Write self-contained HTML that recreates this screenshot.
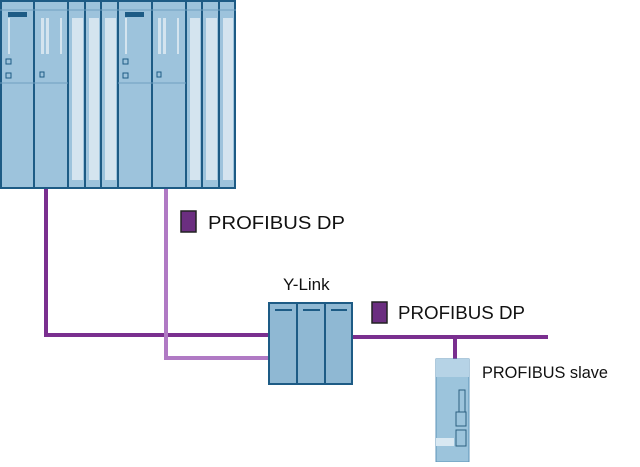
<!DOCTYPE html>
<html><head><style>body{margin:0;background:#fff}text{font-family:"Liberation Sans",sans-serif;fill:#111}</style></head>
<body>
<svg width="640" height="462" viewBox="0 0 640 462" xmlns="http://www.w3.org/2000/svg">
<g stroke="#1d5b85" stroke-width="2">
<rect x="1" y="1" width="234" height="187" fill="#8db5d0"/>
</g>
<g fill="#9dc3dc" stroke="#1d5b85" stroke-width="2">
<rect x="1" y="1" width="33" height="187"/><rect x="34" y="1" width="34" height="187"/>
<rect x="68" y="1" width="17" height="187"/><rect x="85" y="1" width="16" height="187"/><rect x="101" y="1" width="17" height="187"/>
<rect x="118" y="1" width="34" height="187"/><rect x="152" y="1" width="34" height="187"/>
<rect x="186" y="1" width="16" height="187"/><rect x="202" y="1" width="17" height="187"/><rect x="219" y="1" width="16" height="187"/>
</g>
<g stroke="#6f9fc0" stroke-width="1"><line x1="0" y1="10" x2="236" y2="10"/><line x1="0" y1="83" x2="68" y2="83"/><line x1="118" y1="83" x2="186" y2="83"/></g>
<g fill="#d4e4ef">
<rect x="72" y="18" width="11" height="162"/><rect x="89" y="18" width="10" height="162"/><rect x="105" y="18" width="11" height="162"/>
<rect x="190" y="18" width="10" height="162"/><rect x="206" y="18" width="11" height="162"/><rect x="223" y="18" width="10" height="162"/>
<rect x="8" y="18" width="2" height="36"/><rect x="41" y="18" width="3" height="36"/><rect x="46" y="18" width="3" height="36"/><rect x="60" y="18" width="2" height="36"/>
<rect x="125" y="18" width="2" height="36"/><rect x="158" y="18" width="3" height="36"/><rect x="163" y="18" width="3" height="36"/><rect x="177" y="18" width="2" height="36"/>
</g>
<rect x="8" y="12" width="19" height="5" fill="#1d5b85"/><rect x="125" y="12" width="19" height="5" fill="#1d5b85"/>
<g fill="none" stroke="#1d5b85" stroke-width="1"><rect x="6" y="59" width="5" height="5"/><rect x="6" y="73" width="5" height="5"/><rect x="40" y="72" width="4" height="5"/><rect x="123" y="59" width="5" height="5"/><rect x="123" y="73" width="5" height="5"/><rect x="157" y="72" width="4" height="5"/></g>
<g fill="none" stroke-width="4">
<polyline points="46,189 46,335 270,335" stroke="#7a2f8f"/>
<polyline points="166,189 166,358 270,358" stroke="#b07ac4"/>
<polyline points="352,337 548,337" stroke="#7a2f8f"/>
<polyline points="455,337 455,360" stroke="#7a2f8f"/>
</g>
<rect x="181" y="211" width="15" height="21" fill="#6b2e80" stroke="#222" stroke-width="1.5"/>
<text x="208" y="229" font-size="18" textLength="137" lengthAdjust="spacingAndGlyphs">PROFIBUS  DP</text>
<rect x="372" y="302" width="15" height="21" fill="#6b2e80" stroke="#222" stroke-width="1.5"/>
<text x="398" y="319" font-size="18" textLength="127" lengthAdjust="spacingAndGlyphs">PROFIBUS  DP</text>
<text x="283" y="290" font-size="17">Y-Link</text>
<text x="482" y="378" font-size="17" textLength="126" lengthAdjust="spacingAndGlyphs">PROFIBUS slave</text>
<g fill="#8fb8d3" stroke="#1d5b85" stroke-width="2">
<rect x="269" y="303" width="28" height="81"/><rect x="297" y="303" width="28" height="81"/><rect x="325" y="303" width="27" height="81"/>
</g>
<g stroke="#1d5b85" stroke-width="2"><line x1="275" y1="310" x2="292" y2="310"/><line x1="303" y1="310" x2="320" y2="310"/><line x1="331" y1="310" x2="347" y2="310"/></g>
<rect x="436" y="359" width="33" height="103" fill="#9cc4dc" stroke="#5d93b8" stroke-width="1"/>
<rect x="436" y="359" width="33" height="18" fill="#b6d3e6"/>
<rect x="436" y="438" width="18" height="8" fill="#d8e8f2"/>
<g fill="none" stroke="#2c5f80" stroke-width="1"><rect x="459" y="390" width="6" height="22"/><rect x="456" y="412" width="10" height="14"/><rect x="456" y="430" width="10" height="16"/></g>
</svg>
</body></html>
